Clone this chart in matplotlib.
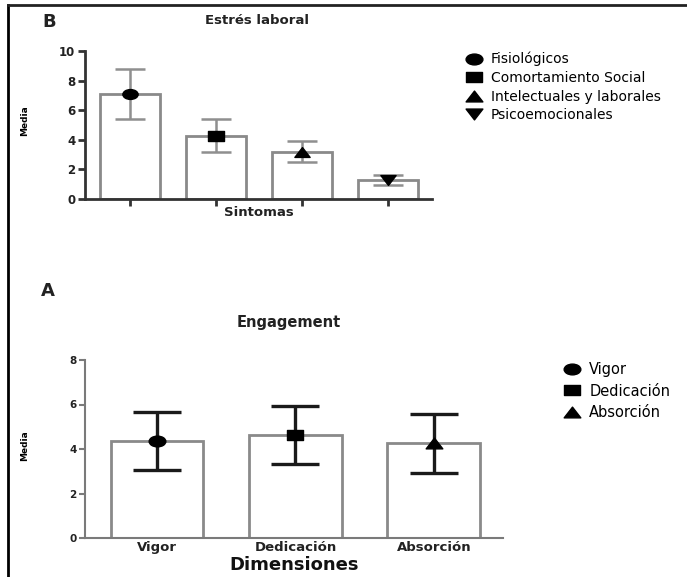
import matplotlib
matplotlib.use("Agg")
import matplotlib.pyplot as plt
import numpy as np
from matplotlib.lines import Line2D
from matplotlib.path import Path

plt.rcParams['font.family'] = ['DejaVu Sans']

# Panel B data
b_cats = ["Fisiológicos", "Comortamiento Social", "Intelectuales y laborales", "Psicoemocionales"]
b_means = [7.07, 4.28, 3.20, 1.28]
b_sd = [1.69, 1.10, 0.72, 0.33]
b_shapes = ["circle", "square", "up", "down"]

# Panel A data
a_cats = ["Vigor", "Dedicación", "Absorción"]
a_means = [4.36, 4.63, 4.25]
a_sd = [1.29, 1.31, 1.32]
a_shapes = ["circle", "square", "up"]

SX = 1.55  # horizontal stretch of the marker shapes


def shape(name):
    if name == "circle":
        c = Path.unit_circle()
        return Path(c.vertices * np.array([SX, 1.0]), c.codes)
    if name == "square":
        v = np.array([[-SX, -1], [SX, -1], [SX, 1], [-SX, 1], [-SX, -1]], float)
        return Path(v, closed=True)
    if name == "up":
        v = np.array([[-SX, -1], [SX, -1], [0, 1], [-SX, -1]], float)
        return Path(v, closed=True)
    v = np.array([[-SX, 1], [SX, 1], [0, -1], [-SX, 1]], float)
    return Path(v, closed=True)


W, H = 687, 577
fig = plt.figure(figsize=(W / 100, H / 100), dpi=100)


def rect(l, r, top, bot):
    return [l / W, 1 - bot / H, (r - l) / W, (bot - top) / H]


# frame
fig.add_artist(Line2D([8 / W, 8 / W], [0, 1 - 5 / H], color="black", lw=2))
fig.add_artist(Line2D([8 / W, 1], [1 - 5 / H, 1 - 5 / H], color="#222222", lw=2))

# ---------- Panel B ----------
axB = fig.add_axes(rect(85, 432, 51, 199))
xb = range(len(b_cats))
axB.bar(xb, b_means, width=0.7, color="white", edgecolor="#8a8a8a", linewidth=2, zorder=2)
axB.errorbar(xb, b_means, yerr=b_sd, fmt="none", ecolor="#8f8f8f", elinewidth=1.8,
             capsize=11, capthick=1.8, zorder=3)
for xi, m, sh in zip(xb, b_means, b_shapes):
    axB.plot(xi, m, marker=shape(sh), color="black", markersize=11, linestyle="none",
             zorder=4, label=b_cats[xi])
axB.set_xlim(-0.52, 3.51)
axB.set_ylim(0, 10)
axB.set_yticks([0, 2, 4, 6, 8, 10])
axB.set_xticks(list(xb))
axB.set_xticklabels([])
for s in ["top", "right"]:
    axB.spines[s].set_visible(False)
for s in ["left", "bottom"]:
    axB.spines[s].set_linewidth(2)
    axB.spines[s].set_color("#333333")
axB.tick_params(axis="y", length=5, width=2, color="#333333", labelsize=8.5, pad=2)
axB.tick_params(axis="x", length=5, width=2, color="#333333")
for t in axB.get_yticklabels():
    t.set_fontweight("bold")
    t.set_color("#222222")
axB.set_xlabel("Sintomas", fontsize=9.5, fontweight="bold", color="#222222")
axB.xaxis.set_label_coords(0.5, -0.05)
axB.set_ylabel("Media", fontsize=6.5, fontweight="bold")
axB.yaxis.set_label_coords(-0.16, 0.53)
fig.text(257 / W, 1 - 21 / H, "Estrés laboral", fontsize=9.5, fontweight="bold",
         ha="center", va="center", color="#222222")
fig.text(49 / W, 1 - 22 / H, "B", fontsize=13, fontweight="bold", ha="center", va="center",
         color="#222222")
axB.legend(loc="upper left", bbox_to_anchor=(466 / W, 1 - 52 / H),
           bbox_transform=fig.transFigure, frameon=False, fontsize=10,
           handlelength=1.2, handletextpad=0.6, labelspacing=0.33,
           borderaxespad=0, borderpad=0, markerscale=1.1)

# ---------- Panel A ----------
axA = fig.add_axes(rect(85, 503, 360, 538))
xa = range(len(a_cats))
axA.bar(xa, a_means, width=0.67, color="white", edgecolor="#8a8a8a", linewidth=2, zorder=2)
axA.errorbar(xa, a_means, yerr=a_sd, fmt="none", ecolor="#1a1a1a", elinewidth=2.4,
             capsize=17, capthick=2.4, zorder=3)
for xi, m, sh in zip(xa, a_means, a_shapes):
    axA.plot(xi, m, marker=shape(sh), color="black", markersize=12, linestyle="none",
             zorder=4, label=a_cats[xi])
axA.set_xlim(-0.52, 2.5)
axA.set_ylim(0, 8)
axA.set_yticks([0, 2, 4, 6, 8])
axA.set_xticks(list(xa))
axA.set_xticklabels(a_cats, fontsize=9.5, fontweight="bold", color="#222222")
for s in ["top", "right"]:
    axA.spines[s].set_visible(False)
for s in ["left", "bottom"]:
    axA.spines[s].set_linewidth(1.5)
    axA.spines[s].set_color("#7a7a7a")
axA.tick_params(axis="y", length=4, width=1.5, color="#7a7a7a", labelsize=7.5, pad=2)
axA.tick_params(axis="x", length=4, width=1.5, color="#7a7a7a", pad=2, direction="in")
for t in axA.get_yticklabels():
    t.set_fontweight("bold")
    t.set_color("#222222")
axA.set_xlabel("Dimensiones", fontsize=13, fontweight="bold", color="#111111")
axA.xaxis.set_label_coords(0.5, -0.1)
axA.set_ylabel("Media", fontsize=6.5, fontweight="bold")
axA.yaxis.set_label_coords(-0.133, 0.52)
fig.text(289 / W, 1 - 322 / H, "Engagement", fontsize=10.5, fontweight="bold",
         ha="center", va="center", color="#222222")
fig.text(48 / W, 1 - 291 / H, "A", fontsize=13, fontweight="bold", ha="center", va="center",
         color="#222222")
axA.legend(loc="upper left", bbox_to_anchor=(563 / W, 1 - 362 / H),
           bbox_transform=fig.transFigure, frameon=False, fontsize=10.5,
           handlelength=1.2, handletextpad=0.6, labelspacing=0.45,
           borderaxespad=0, borderpad=0, markerscale=1.0)

fig.savefig("out.png", dpi=100)
